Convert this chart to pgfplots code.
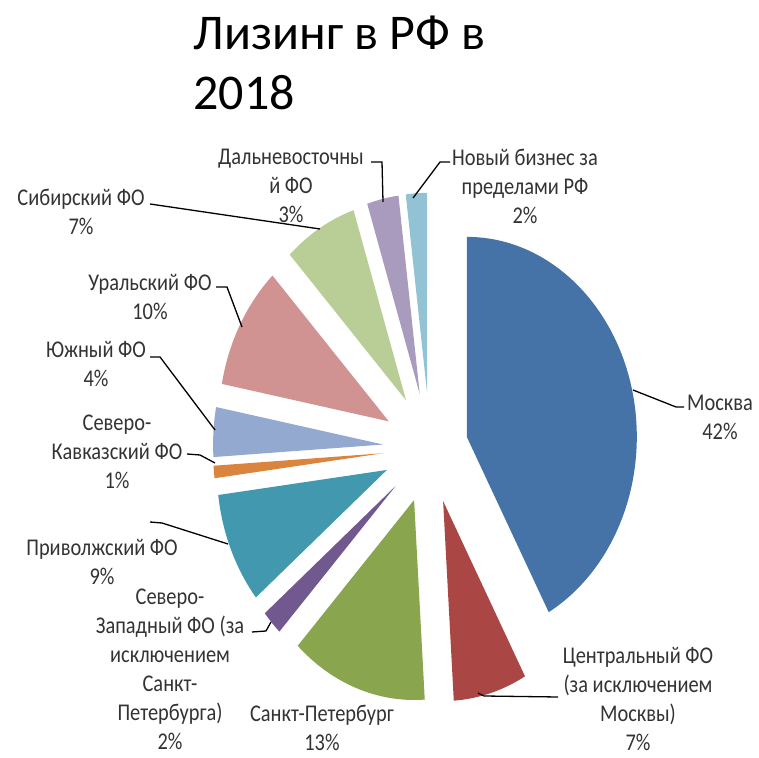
\documentclass[border=0pt]{standalone}
\usepackage{pgfplots}
\pgfplotsset{compat=1.18}
\usepackage{pgfplotstable}
\usepackage{fontspec}
\setmainfont{Carlito}
\newfontfamily\lblfont[FakeStretch=0.85]{Carlito}
\definecolor{c0}{HTML}{4572A7}
\definecolor{c1}{HTML}{AA4643}
\definecolor{c2}{HTML}{89A54E}
\definecolor{c3}{HTML}{71588F}
\definecolor{c4}{HTML}{4198AF}
\definecolor{c5}{HTML}{DB843D}
\definecolor{c6}{HTML}{93A9CF}
\definecolor{c7}{HTML}{D19392}
\definecolor{c8}{HTML}{B9CD96}
\definecolor{c9}{HTML}{A99BBD}
\definecolor{c10}{HTML}{92C3D5}
\definecolor{lblgray}{HTML}{333333}
\tikzset{lbl/.style={font=\lblfont\fontsize{24}{29}\selectfont, text=lblgray, align=center, inner sep=0pt}}
% share (%) of each region, clockwise from the top, and explode distance
\pgfplotstableread{
idx value explode
0 42 38
1 7 47
2 13 47
3 2 47
4 9 47
5 1 47
6 4 47
7 10 47
8 7 47
9 3 47
10 2 47
}\pietable
\def\pv#1#2{\csname pie#1#2\endcsname}
\begin{document}
\begin{tikzpicture}
\def\piecum{0}
\pgfplotsforeachungrouped \i in {0,...,10}{%
  \pgfplotstablegetelem{\i}{value}\of\pietable \let\pieval\pgfplotsretval
  \pgfplotstablegetelem{\i}{explode}\of\pietable \let\pieex\pgfplotsretval
  \pgfmathsetmacro\pieA{90-3.6*\piecum}%
  \pgfmathsetmacro\pieB{90-3.6*(\piecum+\pieval)}%
  \pgfmathsetmacro\pieM{(\pieA+\pieB)/2}%
  \pgfmathsetmacro\pieX{430+\pieex*cos(\pieM)}%
  \pgfmathsetmacro\pieY{309+1.176*\pieex*sin(\pieM)}%
  \pgfmathsetmacro\pieSX{170*cos(\pieA)}%
  \pgfmathsetmacro\pieSY{200*sin(\pieA)}%
  \expandafter\xdef\csname piea\i\endcsname{\pieA}%
  \expandafter\xdef\csname pieb\i\endcsname{\pieB}%
  \expandafter\xdef\csname piex\i\endcsname{\pieX}%
  \expandafter\xdef\csname piey\i\endcsname{\pieY}%
  \expandafter\xdef\csname piesx\i\endcsname{\pieSX}%
  \expandafter\xdef\csname piesy\i\endcsname{\pieSY}%
  \pgfmathsetmacro\piecum{\piecum+\pieval}%
}
\begin{axis}[
  x=1pt, y=1pt, xmin=0, xmax=759, ymin=0, ymax=757,
  hide axis, clip=false,
]
\pgfplotsinvokeforeach{0,...,10}{
  \fill[c#1] (axis cs:\pv{x}{#1},\pv{y}{#1}) -- ++(\pv{sx}{#1}pt,\pv{sy}{#1}pt)
    arc[start angle=\pv{a}{#1}, end angle=\pv{b}{#1}, x radius=170pt, y radius=200pt] -- cycle;
}
% leader lines
\addplot[black, line width=1.3pt, no marks] coordinates {(633,367) (676,350) (684,350)};
\addplot[black, line width=1.3pt, no marks] coordinates {(478,64) (484,61) (558,60)};
\addplot[black, line width=1.3pt, no marks] coordinates {(252,125) (266,126) (271,135)};
\addplot[black, line width=1.3pt, no marks] coordinates {(150,235) (162,234) (228,213)};
\addplot[black, line width=1.3pt, no marks] coordinates {(187,303) (200,302) (215,294)};
\addplot[black, line width=1.3pt, no marks] coordinates {(150,400) (160,400) (215,327)};
\addplot[black, line width=1.3pt, no marks] coordinates {(216,470) (227,470) (242,430)};
\addplot[black, line width=1.3pt, no marks] coordinates {(150,553) (320,528)};
\addplot[black, line width=1.3pt, no marks] coordinates {(371,595) (382,595) (383,555)};
\addplot[black, line width=1.3pt, no marks] coordinates {(450,595) (440,595) (413,559)};
% labels
\node[lbl] at (axis cs:720,340) {Москва\\42\%};
\node[lbl] at (axis cs:638,58) {Центральный ФО\\(за исключением\\Москвы)\\7\%};
\node[lbl] at (axis cs:322,29) {Санкт-Петербург\\13\%};
\node[lbl] at (axis cs:170,88) {Северо-\\Западный ФО (за\\исключением\\Санкт-\\Петербурга)\\2\%};
\node[lbl] at (axis cs:102,195) {Приволжский ФО\\9\%};
\node[lbl] at (axis cs:117,305) {Северо-\\Кавказский ФО\\1\%};
\node[lbl] at (axis cs:96,393) {Южный ФО\\4\%};
\node[lbl] at (axis cs:150,460) {Уральский ФО\\10\%};
\node[lbl] at (axis cs:81,545) {Сибирский ФО\\7\%};
\node[lbl] at (axis cs:291,571) {Дальневосточны\\й ФО\\3\%};
\node[lbl] at (axis cs:525,571) {Новый бизнес за\\пределами РФ\\2\%};
% title
\node[anchor=base west, font=\fontsize{50}{60}\selectfont, text=black] at (axis cs:190,707) {Лизинг в РФ в};
\node[anchor=base west, font=\fontsize{50}{60}\selectfont, text=black] at (axis cs:190,647) {2018};
\end{axis}
\pgfresetboundingbox
\path[use as bounding box] (0,0) rectangle (759pt,757pt);
\end{tikzpicture}
\end{document}
